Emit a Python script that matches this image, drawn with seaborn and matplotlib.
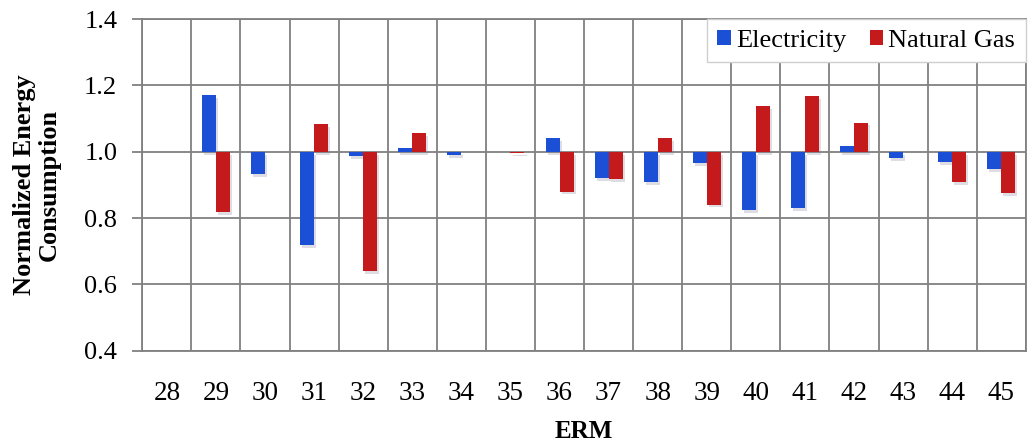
import numpy as np
import pandas as pd
import matplotlib
matplotlib.use("Agg")
import matplotlib.pyplot as plt
import matplotlib.patheffects as pe
from matplotlib.patches import Patch
import seaborn as sns

# Normalized energy consumption per ERM (1.0 = baseline)
erm = ["28", "29", "30", "31", "32", "33", "34", "35", "36",
       "37", "38", "39", "40", "41", "42", "43", "44", "45"]
electricity = [1.000, 1.171, 0.932, 0.719, 0.987, 1.012, 0.990, 1.000, 1.041,
               0.921, 0.909, 0.966, 0.825, 0.830, 1.017, 0.982, 0.968, 0.948]
natural_gas = [1.000, 0.819, 1.000, 1.084, 0.641, 1.056, 1.000, 0.995, 0.880,
               0.917, 1.041, 0.841, 1.138, 1.168, 1.088, 1.000, 0.909, 0.876]
series_names = ["Electricity", "Natural Gas"]
series_colors = ["#1b50d6", "#c41a1c"]
y_ticks = [0.4, 0.6, 0.8, 1.0, 1.2, 1.4]
baseline = 1.0

df = pd.DataFrame({
    "ERM": erm * 2,
    "Source": [series_names[0]] * len(erm) + [series_names[1]] * len(erm),
    "Value": electricity + natural_gas,
})
df["Delta"] = df["Value"] - baseline

sns.set_theme(style="white")
plt.rcParams["font.family"] = ["Liberation Serif", "DejaVu Serif"]
plt.rcParams["text.color"] = "black"
plt.rcParams["axes.labelcolor"] = "black"

fig = plt.figure(figsize=(10.31, 4.43), dpi=100)
ax = fig.add_axes([0.138, 0.208, 0.857, 0.749])

grid_c = "#808080"

# bars rise or fall from the 1.0 baseline
sns.barplot(data=df, x="ERM", y="Delta", hue="Source", order=erm,
            hue_order=series_names, palette=series_colors, saturation=1,
            width=0.57, errorbar=None, bottom=baseline, linewidth=0,
            legend=False, ax=ax, zorder=3)

# soft drop shadow under each bar
for bar in ax.patches:
    bar.set_path_effects([
        pe.SimplePatchShadow(offset=(1.5, -2.0), shadow_rgbFace="#7a7a90",
                             alpha=0.25),
        pe.Normal(),
    ])

ax.set_ylim(0.4, 1.4)
ax.set_yticks(y_ticks)
ax.set_yticklabels([f"{t:.1f}" for t in y_ticks])
ax.set_xlim(-0.5, len(erm) - 0.5)
ax.set_xticks(np.arange(-0.5, len(erm), 1.0), minor=True)

ax.grid(True, axis="y", which="major", color=grid_c, linewidth=1.3, zorder=0)
ax.grid(True, axis="x", which="minor", color=grid_c, linewidth=1.3, zorder=0)
ax.grid(False, axis="x", which="major")
ax.set_axisbelow(True)

for side in ["left", "right", "top", "bottom"]:
    ax.spines[side].set_visible(True)
    ax.spines[side].set_color(grid_c)
    ax.spines[side].set_linewidth(1.3)

ax.tick_params(axis="y", which="major", length=7, width=1.3, color=grid_c,
               labelcolor="black", direction="out", labelsize=19, pad=11,
               left=True)
ax.tick_params(axis="x", which="both", length=0, labelcolor="black",
               labelsize=19.5, pad=22)

ax.set_ylabel("Normalized Energy\nConsumption", fontsize=19, fontweight="bold",
              labelpad=17, linespacing=1.1, color="black")
ax.set_xlabel("ERM", fontsize=18, fontweight="bold", labelpad=10,
              color="black")

handles = [Patch(facecolor=c, edgecolor="none", label=n)
           for n, c in zip(series_names, series_colors)]
leg = ax.legend(handles=handles, loc="upper right", ncol=2, fontsize=19,
                frameon=True, fancybox=False, borderaxespad=0.0,
                handlelength=0.5, handleheight=0.5, handletextpad=0.2,
                columnspacing=0.9, borderpad=0.4, labelcolor="black")
leg.get_frame().set_edgecolor("#cfcfcf")
leg.get_frame().set_linewidth(1.0)
leg.get_frame().set_facecolor("white")
leg.get_frame().set_alpha(1.0)
leg.set_zorder(5)

fig.savefig("out.png", dpi=100, facecolor="white")
